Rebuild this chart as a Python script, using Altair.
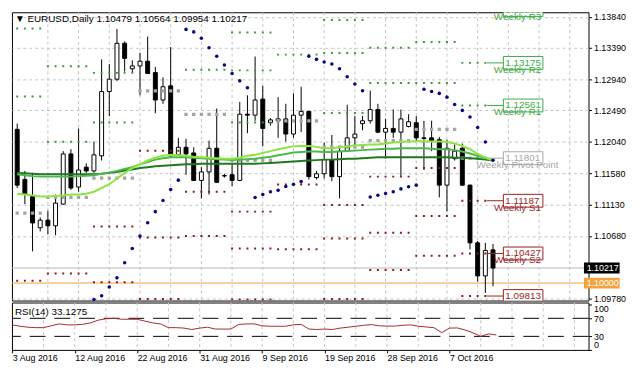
import altair as alt
import pandas as pd

# ---------------- values ----------------
OPEN = [1.12217, 1.11494, 1.11248, 1.10798, 1.10907, 1.10826, 1.11139, 1.11862, 1.11385, 1.11671,
        1.11617, 1.11835, 1.12762, 1.12940, 1.13458, 1.13090, 1.13131, 1.13199, 1.13035, 1.12640,
        1.12844, 1.11849, 1.11958, 1.11876, 1.11480, 1.11603, 1.11944, 1.11549, 1.11562, 1.11480,
        1.12435, 1.12421, 1.12653, 1.12312, 1.12340, 1.12367, 1.12149, 1.12421, 1.12476, 1.11521,
        1.11576, 1.11780, 1.11535, 1.11903, 1.12094, 1.12299, 1.12340, 1.12503, 1.12176, 1.12230,
        1.12176, 1.12258, 1.12312, 1.12094, 1.12094, 1.12067, 1.11412, 1.11794, 1.11944, 1.11412,
        1.10580, 1.10103, 1.10479]
HIGH = [1.12299, 1.11617, 1.11589, 1.10948, 1.11044, 1.11276, 1.11903, 1.11930, 1.12230, 1.11726,
        1.12040, 1.13226, 1.13158, 1.13663, 1.13485, 1.13212, 1.13322, 1.13553, 1.13117, 1.12967,
        1.13403, 1.12094, 1.12080, 1.11958, 1.11671, 1.12053, 1.12517, 1.11576, 1.11726, 1.12612,
        1.12708, 1.13267, 1.12844, 1.12380, 1.12681, 1.12585, 1.12735, 1.12831, 1.12480, 1.11617,
        1.12026, 1.12135, 1.11971, 1.12571, 1.12408, 1.12408, 1.12776, 1.12585, 1.12367, 1.12503,
        1.12503, 1.12435, 1.12408, 1.12340, 1.12340, 1.12108, 1.12067, 1.11999, 1.12012, 1.11420,
        1.10607, 1.10580, 1.10564]
LOW = [1.11371, 1.11139, 1.10457, 1.10744, 1.10703, 1.10689, 1.11130, 1.11344, 1.11317, 1.11589,
       1.11589, 1.11767, 1.12408, 1.12912, 1.13049, 1.13035, 1.12708, 1.13015, 1.12449, 1.12585,
       1.11820, 1.11835, 1.11562, 1.11475, 1.11221, 1.11276, 1.11445, 1.11521, 1.11398, 1.11470,
       1.12162, 1.12340, 1.11971, 1.12271, 1.12094, 1.12040, 1.12094, 1.12176, 1.11494, 1.11494,
       1.11508, 1.11467, 1.11221, 1.11889, 1.11958, 1.12203, 1.12299, 1.12162, 1.11794, 1.12094,
       1.11535, 1.12244, 1.12040, 1.11630, 1.11903, 1.11235, 1.11030, 1.11767, 1.11398, 1.10485,
       1.10021, 1.09857, 1.09954]
CLOSE = [1.11412, 1.11289, 1.10867, 1.10907, 1.10826, 1.11153, 1.11862, 1.11371, 1.11630, 1.11617,
         1.11849, 1.12762, 1.12940, 1.13458, 1.13240, 1.13131, 1.13199, 1.13022, 1.12640, 1.12831,
         1.11835, 1.11958, 1.11862, 1.11480, 1.11603, 1.11944, 1.11453, 1.11545, 1.11480, 1.12435,
         1.12421, 1.12640, 1.12230, 1.12353, 1.12367, 1.12149, 1.12421, 1.12476, 1.11535, 1.11576,
         1.11780, 1.11535, 1.11903, 1.12094, 1.12149, 1.12340, 1.12503, 1.12176, 1.12230, 1.12176,
         1.12367, 1.12326, 1.12094, 1.12085, 1.12053, 1.11412, 1.11944, 1.11903, 1.11412, 1.10580,
         1.10103, 1.10471, 1.10217]

MA_FAST = [1.11289, 1.11276, 1.11262, 1.11248, 1.11248, 1.11255, 1.11262, 1.11276, 1.11276, 1.11289,
           1.11317, 1.11371, 1.11426, 1.11508, 1.11589, 1.11658, 1.11712, 1.11767, 1.11808, 1.11835,
           1.11849, 1.11842, 1.11835, 1.11821, 1.11814, 1.11808, 1.11801, 1.11794, 1.11794, 1.11808,
           1.11835, 1.11849, 1.11876, 1.11903, 1.11930, 1.11951, 1.11971, 1.11978, 1.11978, 1.11964,
           1.11944, 1.11944, 1.11958, 1.11971, 1.11985, 1.11992, 1.11999, 1.11999, 1.12012, 1.12026,
           1.12033, 1.12040, 1.12046, 1.12046, 1.12040, 1.12040, 1.12033, 1.12012, 1.11978, 1.11930,
           1.11862, 1.11808, 1.11767]
MA_MID = [1.11569, 1.11555, 1.11542, 1.11535, 1.11535, 1.11535, 1.11535, 1.11535, 1.11542, 1.11549,
          1.11555, 1.11576, 1.11596, 1.11617, 1.11644, 1.11671, 1.11712, 1.11746, 1.11780, 1.11801,
          1.11814, 1.11814, 1.11814, 1.11808, 1.11801, 1.11794, 1.11787, 1.11780, 1.11773, 1.11780,
          1.11787, 1.11794, 1.11808, 1.11821, 1.11842, 1.11862, 1.11883, 1.11889, 1.11896, 1.11896,
          1.11889, 1.11889, 1.11896, 1.11903, 1.11910, 1.11917, 1.11924, 1.11930, 1.11937, 1.11937,
          1.11944, 1.11944, 1.11944, 1.11944, 1.11937, 1.11930, 1.11930, 1.11917, 1.11896, 1.11869,
          1.11835, 1.11801, 1.11773]
MA_SLOW = [1.11589, 1.11582, 1.11576, 1.11569, 1.11569, 1.11569, 1.11569, 1.11569, 1.11569, 1.11569,
           1.11569, 1.11576, 1.11589, 1.11603, 1.11624, 1.11637, 1.11658, 1.11671, 1.11685, 1.11692,
           1.11698, 1.11705, 1.11712, 1.11712, 1.11719, 1.11719, 1.11719, 1.11719, 1.11719, 1.11719,
           1.11719, 1.11719, 1.11726, 1.11732, 1.11739, 1.11746, 1.11753, 1.11760, 1.11767, 1.11773,
           1.11780, 1.11780, 1.11787, 1.11794, 1.11794, 1.11801, 1.11808, 1.11814, 1.11814, 1.11814,
           1.11814, 1.11814, 1.11814, 1.11814, 1.11814, 1.11814, 1.11814, 1.11808, 1.11808, 1.11801,
           1.11794, 1.11780, 1.11767]

SAR_FIRST_BAR = 10
SAR = [1.09762, 1.09816, 1.09943, 1.10075, 1.10294, 1.10498, 1.10680, 1.10871, 1.11030, 1.11190,
       1.11348, 1.11484, 1.13658, 1.13622, 1.13530, 1.13394, 1.13271, 1.13144, 1.13021, 1.12916,
       1.12817, 1.11235, 1.11276, 1.11317, 1.11337, 1.11392, 1.11426, 1.11463, 1.13271, 1.13226,
       1.13189, 1.13158, 1.13090, 1.12976, 1.12871, 1.12772, 1.11242, 1.11266, 1.11292, 1.11317,
       1.11358, 1.11389, 1.11412, 1.12794, 1.12762, 1.12735, 1.12681, 1.12575, 1.12490, 1.12394,
       1.12244, 1.12033, 1.11771]

RSI = [55.5, 52.4, 50.3, 49.3, 49.3, 53.4, 57.6, 55.5, 55.5, 56.6,
       59.7, 65.9, 69.0, 70.0, 67.9, 67.9, 67.9, 63.8, 59.7, 57.6,
       49.3, 49.3, 48.3, 45.2, 48.3, 50.3, 46.2, 46.2, 46.2, 56.6,
       57.6, 57.6, 53.4, 52.4, 52.4, 52.4, 55.5, 56.6, 46.2, 45.2,
       46.2, 45.2, 48.3, 50.3, 52.4, 54.5, 56.1, 53.4, 52.8, 52.8,
       54.5, 55.5, 52.4, 50.8, 49.3, 38.3, 48.3, 48.7, 44.1, 37.9,
       30.1, 35.4, 33.13]

# weekly pivot levels (None = outside the visible range)
WEEK_FIRST = [0, 4, 10, 16, 22, 28, 34, 40, 46, 52, 58]
WEEK_LAST = [3, 9, 15, 21, 27, 33, 39, 45, 51, 57, 61]
PIVOT_R3 = [None, None, None, None, None, 1.13612, None, 1.13795, None, None, 1.13935]
PIVOT_R2 = [1.13672, 1.13127, 1.13031, None, None, 1.13067, None, 1.13317, 1.13394, 1.13476, 1.13175]
PIVOT_R1 = [1.12690, 1.12039, 1.12316, None, 1.13076, 1.12316, 1.13294, 1.12453, 1.12885, 1.12885, 1.12561]
PIVOT_PP = [1.11007, 1.11235, 1.11512, 1.12772, 1.12431, 1.11771, 1.12340, 1.11962, 1.12053, 1.12217, 1.11801]
PIVOT_S1 = [1.10034, 1.10137, 1.10816, 1.11907, 1.11317, 1.11030, 1.11422, 1.11126, 1.11535, 1.11658, 1.11187]
PIVOT_S2 = [None, None, 1.10011, 1.10658, 1.10680, 1.10498, 1.10489, 1.10644, 1.10726, 1.10966, 1.10427]
PIVOT_S3 = [None, None, None, 1.09771, None, 1.09762, None, 1.09771, 1.10189, 1.10393, 1.09813]

LABEL_NAMES = ["Weekly R3", "Weekly R2", "Weekly R1", "Weekly Pivot Point",
               "Weekly S1", "Weekly S2", "Weekly S3"]
LABEL_KINDS = ["R", "R", "R", "P", "S", "S", "S"]

PRICE_TICKS = [1.13840, 1.13390, 1.12940, 1.12490, 1.12040, 1.11580, 1.11130, 1.10680, 1.09780]
BID_PRICE = 1.10217
ALERT_PRICE = 1.10000

RSI_LEVELS = [70, 30]
RSI_TICKS = [0, 30, 70, 100]

DATE_BARS = [0, 8, 16, 24, 32, 40, 48, 56]
DATE_TEXT = ["3 Aug 2016", "12 Aug 2016", "22 Aug 2016", "31 Aug 2016",
             "9 Sep 2016", "19 Sep 2016", "28 Sep 2016", "7 Oct 2016"]
GRID_BARS = [4, 8, 12, 16, 20, 24, 28, 32, 36, 40, 44, 48, 52, 56, 60, 64, 68, 72]

TITLE_MAIN = "\u25BC EURUSD,Daily  1.10479 1.10564 1.09954 1.10217"
TITLE_RSI = "RSI(14) 33.1275"

# ---------------- layout / style ----------------
W = 584
H_MAIN = 292
H_RSI = 48
X_DOMAIN = [-0.04, 73.8]
Y_DOMAIN = [1.09748, 1.13905]
RSI_DOMAIN = [0, 105]
FONT = "Liberation Sans"
GRID_C = "#C4C4C4"
COL_DOT = {"R": "#3A9A3A", "P": "#A4A4A4", "S": "#8B1A1A"}
COL_LBL = {"R": "#3DAA45", "P": "#A8A8A8", "S": "#9A1F1F"}
DOT_SIZE = {"R": 4, "P": 11, "S": 4}
SLOW_C, MID_C, FAST_C = "#1F7A1F", "#4DB84D", "#8EE53F"
SAR_C = "#0A0A80"
RSI_C = "#A52A2A"
ORANGE = "#F4A23C"

PX_PER_PRICE = H_MAIN / (Y_DOMAIN[1] - Y_DOMAIN[0])
PIVOT_BOX_HALF = 6.5 / PX_PER_PRICE
AXIS_BOX_HALF = 5.5 / PX_PER_PRICE
CONNECT_FROM, BOX_LEFT, BOX_RIGHT, BOX_TEXT, NAME_CENTER = 61.2, 63.35, 68.5, 63.6, 65.2
AXBOX_LEFT, AXBOX_RIGHT, AXBOX_TEXT = 73.85, 78.5, 74.2

# ---------------- tables ----------------
n = len(OPEN)
candles = pd.DataFrame({"bar": range(n), "open": OPEN, "high": HIGH, "low": LOW, "close": CLOSE})
ma = pd.DataFrame({"bar": range(n), "fast": MA_FAST, "mid": MA_MID, "slow": MA_SLOW})
sar = pd.DataFrame({"bar": range(SAR_FIRST_BAR, SAR_FIRST_BAR + len(SAR)), "price": SAR})
rsi = pd.DataFrame({"bar": range(n), "rsi": RSI})
grid = pd.DataFrame({"bar": GRID_BARS})

levels = [("R", PIVOT_R3), ("R", PIVOT_R2), ("R", PIVOT_R1), ("P", PIVOT_PP),
          ("S", PIVOT_S1), ("S", PIVOT_S2), ("S", PIVOT_S3)]
rows = []
for w, (a, b) in enumerate(zip(WEEK_FIRST, WEEK_LAST)):
    for kind, vals in levels:
        if vals[w] is None:
            continue
        for bar in range(a, b + 1):
            rows.append({"bar": bar, "price": vals[w], "kind": kind})
pivot_dots = pd.DataFrame(rows)

last_vals = [vals[-1] for _, vals in levels]
lab = pd.DataFrame({"name": LABEL_NAMES, "kind": LABEL_KINDS, "price": last_vals})
lab["txt"] = [f"{v:.5f}" for v in last_vals]
lab["lo"] = lab["price"] - PIVOT_BOX_HALF
lab["hi"] = lab["price"] + PIVOT_BOX_HALF
lab["xa"] = CONNECT_FROM
lab["xb"] = BOX_LEFT
lab["xc"] = BOX_RIGHT
lab["xt"] = BOX_TEXT
lab["xn"] = NAME_CENTER
lab_names = lab[lab["name"] != "Weekly S3"]

axbox = pd.DataFrame({"price": [BID_PRICE, ALERT_PRICE],
                      "txt": [f"{BID_PRICE:.5f}", f"{ALERT_PRICE:.5f}"],
                      "bg": ["black", ORANGE]})
axbox["lo"] = axbox["price"] - AXIS_BOX_HALF
axbox["hi"] = axbox["price"] + AXIS_BOX_HALF
axbox["x0"] = AXBOX_LEFT
axbox["x1"] = AXBOX_RIGHT
axbox["xt"] = AXBOX_TEXT

# ---------------- scales / axes ----------------
xs = alt.Scale(domain=X_DOMAIN, nice=False, zero=False)
ys = alt.Scale(domain=Y_DOMAIN, nice=False, zero=False)
rs = alt.Scale(domain=RSI_DOMAIN, nice=False, zero=False)

Y_AXIS = alt.Axis(orient="right", values=PRICE_TICKS, format=".5f", title=None, grid=True,
                  gridColor=GRID_C, gridDash=[3, 3], gridWidth=1, tickSize=3, tickColor="black",
                  domain=False, labelFontSize=9, labelFont=FONT, labelColor="black", labelPadding=2,
                  labelOverlap=False)
RSI_Y_AXIS = alt.Axis(orient="right", values=RSI_TICKS, title=None, grid=False, tickSize=3,
                      tickColor="black", domain=False, labelFontSize=9, labelFont=FONT,
                      labelColor="black", labelPadding=2, labelFlush=5, labelOverlap=False)
arr_v = "[" + ",".join(str(b) for b in DATE_BARS) + "]"
arr_t = "[" + ",".join("'" + t + "'" for t in DATE_TEXT) + "]"
X_AXIS = alt.Axis(orient="bottom", values=DATE_BARS, labelExpr=f"{arr_t}[indexof({arr_v}, datum.value)]",
                  labelAlign="left", labelOverlap=False, title=None, grid=False, domain=False,
                  tickSize=3, tickColor="black", labelFontSize=9, labelFont=FONT,
                  labelColor="black", labelPadding=1)


def xq(field="bar"):
    return alt.X(f"{field}:Q", scale=xs, axis=None)


def yq(field="price"):
    return alt.Y(f"{field}:Q", scale=ys, axis=Y_AXIS)


def rx(field="bar"):
    return alt.X(f"{field}:Q", scale=xs, axis=X_AXIS)


def ry(field):
    return alt.Y(f"{field}:Q", scale=rs, axis=RSI_Y_AXIS)


# ---------------- main panel ----------------
layers = []
layers.append(alt.Chart(grid).mark_rule(color=GRID_C, strokeDash=[3, 3], strokeWidth=1).encode(x=xq()))
layers.append(alt.Chart(pd.DataFrame({"price": [BID_PRICE]}))
              .mark_rule(color="#B8B8B8", strokeWidth=1).encode(y=yq()))
layers.append(alt.Chart(pd.DataFrame({"price": [ALERT_PRICE]}))
              .mark_rule(color=ORANGE, strokeWidth=1).encode(y=yq()))
layers.append(alt.Chart(candles).mark_rule(color="black", strokeWidth=1)
              .encode(x=xq(), y=yq("low"), y2="high:Q"))
layers.append(alt.Chart(candles).mark_bar(width=4, stroke="black", strokeWidth=1)
              .encode(x=xq(), y=yq("open"), y2="close:Q",
                      fill=alt.condition("datum.close >= datum.open", alt.value("white"), alt.value("black"))))
for k in ["R", "P", "S"]:
    layers.append(alt.Chart(pivot_dots).transform_filter(alt.datum.kind == k)
                  .mark_square(color=COL_DOT[k], size=DOT_SIZE[k], opacity=1, clip=True)
                  .encode(x=xq(), y=yq()))
for k in ["R", "P", "S"]:
    sub = lab[lab["kind"] == k]
    layers.append(alt.Chart(sub).mark_rule(color=COL_LBL[k], strokeWidth=1, clip=True)
                  .encode(x=xq("xa"), x2="xb:Q", y=yq()))
    layers.append(alt.Chart(sub).mark_rect(fill="white", stroke=COL_LBL[k], strokeWidth=1, clip=True)
                  .encode(x=xq("xb"), x2="xc:Q", y=yq("lo"), y2="hi:Q"))
    layers.append(alt.Chart(sub).mark_text(color=COL_LBL[k], align="left", baseline="middle",
                                           fontSize=10, font=FONT, clip=True)
                  .encode(x=xq("xt"), y=yq(), text="txt:N"))
    subn = lab_names[lab_names["kind"] == k]
    layers.append(alt.Chart(subn).mark_text(color=COL_LBL[k], align="center", baseline="middle",
                                            fontSize=10, font=FONT, dy=7, clip=True)
                  .encode(x=xq("xn"), y=yq(), text="name:N"))
layers.append(alt.Chart(ma).mark_line(color=SLOW_C, strokeWidth=2).encode(x=xq(), y=yq("slow")))
layers.append(alt.Chart(ma).mark_line(color=MID_C, strokeWidth=2).encode(x=xq(), y=yq("mid")))
layers.append(alt.Chart(ma).mark_line(color=FAST_C, strokeWidth=2).encode(x=xq(), y=yq("fast")))
layers.append(alt.Chart(sar).mark_circle(color=SAR_C, size=13, opacity=1).encode(x=xq(), y=yq()))
for i in range(len(axbox)):
    row = axbox.iloc[[i]]
    layers.append(alt.Chart(row).mark_rect(color=row["bg"].iloc[0])
                  .encode(x=xq("x0"), x2="x1:Q", y=yq("lo"), y2="hi:Q"))
    layers.append(alt.Chart(row).mark_text(color="white", align="left", baseline="middle",
                                           fontSize=9, font=FONT)
                  .encode(x=xq("xt"), y=yq(), text="txt:N"))
layers.append(alt.Chart(pd.DataFrame({"t": [TITLE_MAIN]}))
              .mark_text(align="left", baseline="middle", fontSize=10, font=FONT, color="black")
              .encode(x=alt.value(3), y=alt.value(7), text="t:N"))

main = alt.layer(*layers).properties(width=W, height=H_MAIN)

# ---------------- RSI panel ----------------
rsi_layers = [
    alt.Chart(grid).mark_rule(color=GRID_C, strokeDash=[3, 3], strokeWidth=1).encode(x=rx()),
    alt.Chart(pd.DataFrame({"lvl": RSI_LEVELS})).mark_rule(color="black", strokeDash=[16, 9], strokeWidth=1)
    .encode(y=ry("lvl")),
    alt.Chart(rsi).mark_line(color=RSI_C, strokeWidth=1).encode(x=rx(), y=ry("rsi")),
    alt.Chart(pd.DataFrame({"t": [TITLE_RSI]}))
    .mark_text(align="left", baseline="middle", fontSize=10, font=FONT, color="black")
    .encode(x=alt.value(3), y=alt.value(10), text="t:N"),
]
rsi_panel = alt.layer(*rsi_layers).properties(width=W, height=H_RSI)

chart = (alt.vconcat(main, rsi_panel, spacing=2, bounds="flush")
         .properties(padding={"left": 1, "top": 1, "right": 1, "bottom": 1}, background="white")
         .configure_view(stroke="black", strokeWidth=1))

chart.save("out.html", embed_options={"renderer": "svg", "actions": False})
